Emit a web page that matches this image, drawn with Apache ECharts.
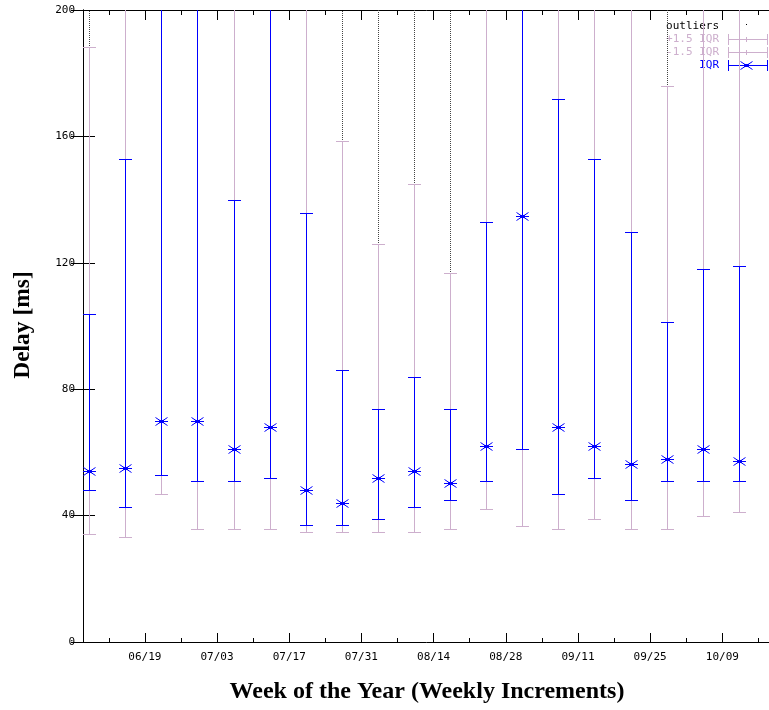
<!DOCTYPE html>
<html>
<head>
<meta charset="utf-8">
<script src="https://cdn.jsdelivr.net/npm/echarts@6/dist/echarts.min.js"></script>
<style>
html, body { margin: 0; padding: 0; background: #fff; }
#chart { width: 769px; height: 710px; }
</style>
</head>
<body>
<div id="chart"></div>
<script>
// x values are days counted from 06/07
const weekDays = [1.2, 8.2, 15.2, 22.2, 29.2, 36.2, 43.2, 50.2, 57.2, 64.2,
  71.2, 78.2, 85.2, 92.2, 99.2, 106.2, 113.2, 120.2, 127.2, 134.2];
const lowWhisker = [34.1, 33.1, 46.9, 35.9, 35.9, 35.9, 34.9, 34.9, 34.9, 34.9,
  35.9, 42.2, 36.8, 35.9, 39.0, 35.9, 35.9, 40.0, 41.0, 31.7];
const q1 = [48.1, 42.8, 52.9, 50.8, 50.8, 51.9, 36.9, 36.9, 39.0, 42.8,
  44.9, 50.8, 61.0, 46.9, 51.9, 44.9, 50.8, 50.8, 50.8, 43.0];
const median = [54.0, 55.1, 70.0, 70.0, 61.0, 68.0, 48.1, 43.9, 51.9, 54.0,
  50.2, 62.0, 134.8, 67.9, 62.0, 56.2, 57.8, 61.0, 57.2, 60.2];
const q3 = [103.8, 152.8, 215, 215, 139.9, 215, 135.8, 86.0, 73.8, 83.9,
  73.8, 132.9, 215, 171.9, 152.8, 129.8, 101.3, 118.0, 119.1, 127.7];
const highWhisker = [188.3, 240, 240, 240, 240, 240, 240, 158.7, 126.0, 144.8,
  116.8, 240, 240, 240, 240, 240, 175.8, 240, 240, 240];
const outlierMax = [280, 280, 280, 280, 280, 280, 280, 280, 280, 280,
  280, 280, 280, 280, 280, 280, 280, 280, 280, 280];

const majorTickDays = [12, 26, 40, 54, 68, 82, 96, 110, 124];
const majorTickLabels = ['06/19', '07/03', '07/17', '07/31', '08/14', '08/28', '09/11', '09/25', '10/09'];
const minorTickDays = [5, 19, 33, 47, 61, 75, 89, 103, 117, 131];

const PURPLE = '#cdafcd';
const BLUE = '#0000ff';
const MONO = 'DejaVu Sans Mono';

// straight segments are drawn as 1px filled rects
function vbar(x, y1, y2, color) {
  const xa = Math.round(x);
  const top = Math.round(Math.min(y1, y2));
  const h = Math.round(Math.max(y1, y2)) - top + 1;
  return { type: 'rect', shape: { x: xa, y: top, width: 1, height: h }, style: { fill: color, stroke: null } };
}

function hbar(x1, x2, y, color) {
  return { type: 'rect', shape: { x: Math.round(x1), y: Math.round(y), width: Math.round(x2 - x1) + 1, height: 1 }, style: { fill: color, stroke: null } };
}

function dline(x1, y1, x2, y2, color) {
  return { type: 'line', shape: { x1: x1, y1: y1, x2: x2, y2: y2 }, style: { stroke: color, fill: null, lineWidth: 1 } };
}

function star(x, y, color) {
  const xa = Math.round(x) + 0.5, ya = Math.round(y) + 0.5;
  return [
    hbar(x - 6, x + 6, y, color),
    dline(xa - 6, ya - 4, xa + 6, ya + 4, color),
    dline(xa - 6, ya + 4, xa + 6, ya - 4, color),
    { type: 'rect', shape: { x: Math.round(x) - 2, y: Math.round(y) - 1, width: 5, height: 3 }, style: { fill: color, stroke: null } }
  ];
}

// vertical bar with end caps, cut at the top of the plot
function capBar(x, yLo, yHi, top, color) {
  const out = [];
  out.push(vbar(x, yLo, Math.max(yHi, top), color));
  out.push(hbar(x - 6, x + 6, yLo, color));
  if (yHi >= top) out.push(hbar(x - 6, x + 6, yHi, color));
  return out;
}

// dotted line from the upper whisker to the top of the plot
function dotted(x, y1, y2, color) {
  const out = [];
  for (let y = Math.round(y1) - 2; y >= Math.round(y2); y -= 2) {
    out.push({ type: 'rect', shape: { x: Math.round(x), y: y, width: 1, height: 1 }, style: { fill: color, stroke: null } });
  }
  return out;
}

// one item = one week: outlier range (dotted), +/-1.5 IQR whisker, IQR with median star
function renderWeek(params, api) {
  const day = api.value(0);
  const top = params.coordSys.y;
  const pLow = api.coord([day, api.value(1)]);
  const pQ1 = api.coord([day, api.value(2)]);
  const pMed = api.coord([day, api.value(3)]);
  const pQ3 = api.coord([day, api.value(4)]);
  const pHigh = api.coord([day, api.value(5)]);
  const x = pLow[0];
  let children = [];
  if (pHigh[1] > top) children = children.concat(dotted(x, pHigh[1], top, '#444'));
  children = children.concat(capBar(x, pLow[1], pHigh[1], top, PURPLE));
  children = children.concat(capBar(x, pQ1[1], pQ3[1], top, BLUE));
  children = children.concat(star(x, pMed[1], BLUE));
  return { type: 'group', children: children };
}

function keySample(y, color, withStar) {
  let items = [hbar(728, 767, y, color), vbar(728, y - 5, y + 5, color), vbar(767, y - 5, y + 5, color)];
  if (withStar) items = items.concat(star(746, y, color));
  else items.push(vbar(746, y - 2, y + 2, color));
  return { type: 'group', children: items };
}

const chart = echarts.init(document.getElementById('chart'));

const xBase = { type: 'value', min: 0, max: 134.6, splitLine: { show: false } };
const axisLineStyle = { show: true, lineStyle: { color: '#000', width: 1 } };

const option = {
  animation: false,
  backgroundColor: '#fff',
  grid: { left: 83, top: 10, width: 694, height: 632, outerBoundsMode: 'none', containLabel: false },
  xAxis: [
    Object.assign({}, xBase, {
      position: 'bottom',
      axisLine: axisLineStyle,
      axisTick: { show: true, inside: true, length: 9, customValues: majorTickDays, lineStyle: { color: '#000' } },
      axisLabel: {
        show: true, margin: 10, color: '#000', fontFamily: MONO, fontSize: 11,
        customValues: majorTickDays,
        formatter: function (v) { return majorTickLabels[majorTickDays.indexOf(v)]; }
      }
    }),
    Object.assign({}, xBase, {
      position: 'bottom',
      axisLine: { show: false },
      axisTick: { show: true, inside: true, length: 4, customValues: minorTickDays, lineStyle: { color: '#000' } },
      axisLabel: { show: false }
    }),
    Object.assign({}, xBase, {
      position: 'top',
      axisLine: axisLineStyle,
      axisTick: { show: true, inside: true, length: 10, customValues: majorTickDays, lineStyle: { color: '#000' } },
      axisLabel: { show: false }
    }),
    Object.assign({}, xBase, {
      position: 'top',
      axisLine: { show: false },
      axisTick: { show: true, inside: true, length: 5, customValues: minorTickDays, lineStyle: { color: '#000' } },
      axisLabel: { show: false }
    })
  ],
  yAxis: [
    {
      type: 'value', min: 0, max: 200, interval: 40, position: 'left',
      splitLine: { show: false },
      axisLine: axisLineStyle,
      axisTick: { show: true, inside: true, length: 12, lineStyle: { color: '#000' } },
      axisLabel: { margin: 8, color: '#000', fontFamily: MONO, fontSize: 11 }
    },
    {
      type: 'value', min: 0, max: 200, interval: 40, position: 'right',
      splitLine: { show: false },
      axisLine: axisLineStyle,
      axisTick: { show: true, inside: true, length: 12, lineStyle: { color: '#000' } },
      axisLabel: { show: false }
    }
  ],
  series: [
    {
      name: 'delay', type: 'custom', clip: false,
      renderItem: renderWeek,
      data: weekDays.map((d, i) => [d, lowWhisker[i], q1[i], median[i], q3[i], highWhisker[i], outlierMax[i]])
    }
  ],
  graphic: [
    {
      type: 'text', x: 23, y: 325, rotation: Math.PI / 2,
      style: { text: 'Delay [ms]', font: 'bold 23.5px "Liberation Serif"', fill: '#000', align: 'center', verticalAlign: 'middle' }
    },
    {
      type: 'text', x: 427, y: 692,
      style: { text: 'Week of the Year (Weekly Increments)', font: 'bold 24px "Liberation Serif"', fill: '#000', align: 'center', verticalAlign: 'middle' }
    },
    // key
    { type: 'text', x: 719, y: 26, style: { text: 'outliers', font: '11px "DejaVu Sans Mono"', fill: '#000', align: 'right', verticalAlign: 'middle' } },
    { type: 'rect', shape: { x: 746, y: 24, width: 1, height: 1 }, style: { fill: '#000' } },
    { type: 'text', x: 719, y: 39, style: { text: '+1.5 IQR', font: '11px "DejaVu Sans Mono"', fill: PURPLE, align: 'right', verticalAlign: 'middle' } },
    keySample(39, PURPLE, false),
    { type: 'text', x: 719, y: 52, style: { text: '-1.5 IQR', font: '11px "DejaVu Sans Mono"', fill: PURPLE, align: 'right', verticalAlign: 'middle' } },
    keySample(52, PURPLE, false),
    { type: 'text', x: 719, y: 65, style: { text: 'IQR', font: '11px "DejaVu Sans Mono"', fill: BLUE, align: 'right', verticalAlign: 'middle' } },
    keySample(65, BLUE, true)
  ]
};

chart.setOption(option);
</script>
</body>
</html>
